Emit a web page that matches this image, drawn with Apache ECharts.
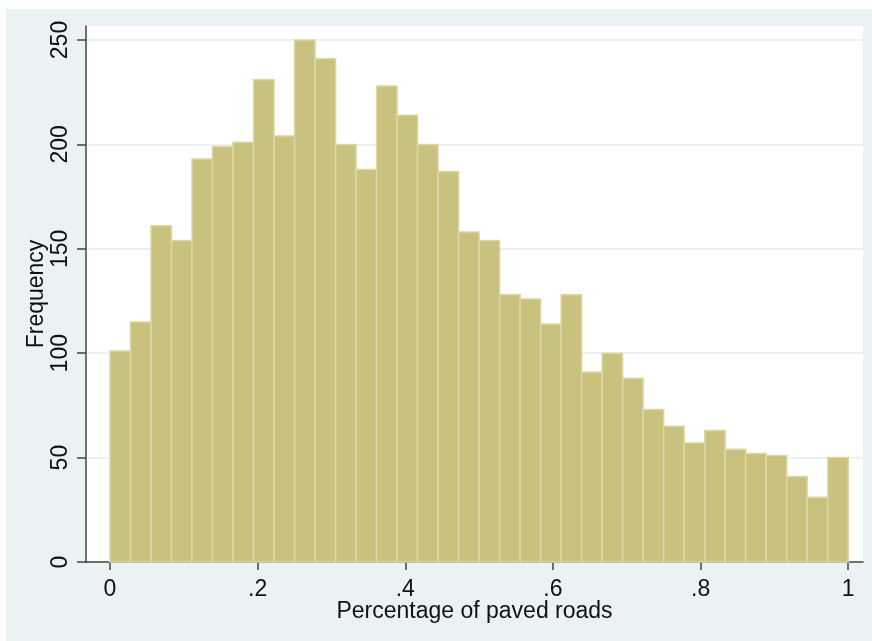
<!DOCTYPE html>
<html>
<head>
<meta charset="utf-8">
<script src="https://cdn.jsdelivr.net/npm/echarts@6/dist/echarts.min.js"></script>
<style>
  html, body { margin: 0; padding: 0; background: #ffffff; }
  #bg { position: absolute; left: 6px; top: 9px; width: 866px; height: 632px; background: #EAF2F3; }
  #chart { position: absolute; left: 0; top: 0; width: 872px; height: 641px; }
</style>
</head>
<body>
<div id="bg"></div>
<div id="chart"></div>
<script>
// Histogram of percentage of paved roads (36 bins from 0 to 1)
var binStart = 0;
var binWidth = 1 / 36;
var counts = [101, 115, 161, 154, 193, 199, 201, 231, 204, 250, 241, 200,
              188, 228, 214, 200, 187, 158, 154, 128, 126, 114, 128, 91,
              100, 88, 73, 65, 57, 63, 54, 52, 51, 41, 31, 50];
var xTicks = [0, 0.2, 0.4, 0.6, 0.8, 1];
var xTickLabels = ['0', '.2', '.4', '.6', '.8', '1'];
var yTicks = [0, 50, 100, 150, 200, 250];
var xTitle = 'Percentage of paved roads';
var yTitle = 'Frequency';

var data = counts.map(function (c, i) {
  return [binStart + i * binWidth, binStart + (i + 1) * binWidth, c];
});

var FONT = '"Liberation Sans", Arial, sans-serif';
var chart = echarts.init(document.getElementById('chart'), null, { renderer: 'canvas' });
chart.setOption({
  animation: false,
  grid: {
    left: 86, right: 9, top: 26, bottom: 79,
    show: true, backgroundColor: '#ffffff', borderWidth: 0
  },
  xAxis: {
    type: 'value',
    min: -0.0325, max: 1.02,
    axisLine: { show: true, onZero: false, lineStyle: { color: '#444', width: 1.5 } },
    axisTick: { show: true, customValues: xTicks, length: 8, lineStyle: { color: '#444', width: 1.5 } },
    axisLabel: {
      customValues: xTicks,
      margin: 16,
      fontSize: 23, color: '#111', fontFamily: FONT,
      formatter: function (v) {
        var idx = xTicks.indexOf(v);
        return idx >= 0 ? xTickLabels[idx] : '';
      }
    },
    splitLine: { show: false },
    name: xTitle,
    nameLocation: 'middle',
    nameMoveOverlap: false,
    nameGap: 38,
    nameTextStyle: { fontSize: 23, color: '#111', fontFamily: FONT }
  },
  yAxis: {
    type: 'value',
    min: 0, max: 256.7,
    axisLine: { show: true, onZero: false, lineStyle: { color: '#444', width: 1.5 } },
    axisTick: { show: true, customValues: yTicks, length: 9, lineStyle: { color: '#444', width: 1.5 } },
    axisLabel: {
      customValues: yTicks,
      rotate: 90,
      margin: 14,
      fontSize: 23, color: '#111', fontFamily: FONT
    },
    splitLine: { show: true, lineStyle: { color: '#E4EEF2', width: 1.5 } },
    name: yTitle,
    nameLocation: 'middle',
    nameRotate: 90,
    nameMoveOverlap: false,
    nameGap: 38,
    nameTextStyle: { fontSize: 23, color: '#111', fontFamily: FONT }
  },
  series: [{
    type: 'custom',
    data: data,
    encode: { x: [0, 1], y: 2 },
    renderItem: function (params, api) {
      var p0 = api.coord([api.value(0), api.value(2)]);
      var p1 = api.coord([api.value(1), 0]);
      return {
        type: 'rect',
        shape: { x: p0[0], y: p0[1], width: p1[0] - p0[0], height: p1[1] - p0[1] },
        style: { fill: '#C9C17E', stroke: '#DCD7A6', lineWidth: 1.5 }
      };
    }
  }]
});
</script>
</body>
</html>
